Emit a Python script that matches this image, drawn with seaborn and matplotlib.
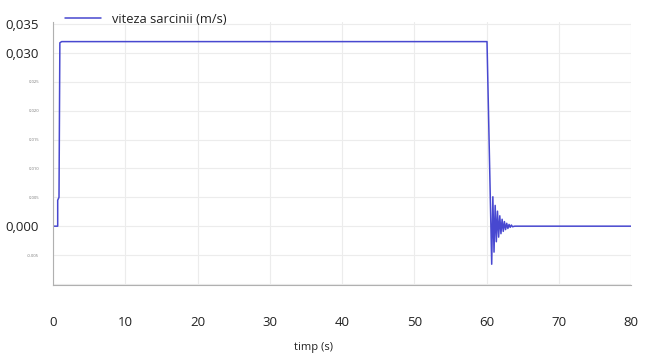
import matplotlib
matplotlib.use("Agg")
import matplotlib.pyplot as plt
import seaborn as sns
import pandas as pd
import numpy as np
from matplotlib.ticker import MultipleLocator, FixedLocator

# ---- data ----
time_s = [0.0, 0.65, 0.65, 0.83, 0.95, 1.2, 60.07,
          60.72, 60.88, 61.04, 61.20, 61.36, 61.52, 61.68, 61.84, 62.00, 62.16,
          62.32, 62.48, 62.64, 62.80, 62.96, 63.12, 63.28, 63.44, 63.60, 63.9, 80.0]
speed = [0.0, 0.0, 0.0045, 0.0050, 0.0318, 0.0320, 0.0320,
         -0.0066, 0.0051, -0.0045, 0.0036, -0.0027, 0.0026, -0.0019, 0.0018, -0.0013, 0.0012,
         -0.0009, 0.0008, -0.0006, 0.0005, -0.0004, 0.0003, -0.0002, 0.0002, -0.0001, 0.0, 0.0]
series_name = "viteza sarcinii (m/s)"
x_ticks = [0, 10, 20, 30, 40, 50, 60, 70, 80]
y_ticks = [-0.010, -0.005, 0.000, 0.005, 0.010, 0.015, 0.020, 0.025, 0.030, 0.035]
y_tick_labels = ["", "-0.005", "0,000", "0.005", "0.010", "0.015", "0.020", "0.025", "0,030", "0,035"]
big_y = {"0,000", "0,030", "0,035"}
x_label = "timp (s)"

df = pd.DataFrame({"t": time_s, "v": speed, "serie": series_name})

sns.set_style("white")
plt.rcParams['font.family'] = ['Open Sans', 'DejaVu Sans']

fig = plt.figure(figsize=(6.45, 3.58), dpi=100)
ax = fig.add_axes([53/645, 1-285/358, (631-53)/645, (285-22)/358])

sns.lineplot(data=df, x="t", y="v", hue="serie", palette=["#4848d0"],
             estimator=None, sort=False, linewidth=1.1, ax=ax)

ax.set_xlim(0, 80)
ax.set_ylim(-0.0102, 0.0354)

ax.xaxis.set_major_locator(FixedLocator(x_ticks))
ax.xaxis.set_minor_locator(MultipleLocator(2))
ax.yaxis.set_major_locator(FixedLocator(y_ticks))
ax.yaxis.set_minor_locator(MultipleLocator(0.001))
ax.set_xticklabels([str(x) for x in x_ticks])
ax.set_yticklabels(y_tick_labels)

for lab in ax.get_yticklabels():
    if lab.get_text() in big_y:
        lab.set_fontsize(9.5)
        lab.set_color("#222222")
    else:
        lab.set_fontsize(3)
        lab.set_color("#777777")

ax.tick_params(axis="x", which="major", length=4, width=0.8, color="#999999",
               labelsize=9.5, labelcolor="#222222", pad=20, direction="inout")
ax.tick_params(axis="x", which="minor", length=2, width=0.6, color="#aaaaaa", direction="out")
ax.tick_params(axis="y", which="major", length=4, width=0.8, color="#999999", pad=6)
ax.tick_params(axis="y", which="minor", length=2, width=0.6, color="#aaaaaa")

ax.grid(True, which="major", color="#ececec", linewidth=0.8)
ax.set_axisbelow(True)
for s in ["top", "right"]:
    ax.spines[s].set_visible(False)
for s in ["left", "bottom"]:
    ax.spines[s].set_color("#b0b0b0")
    ax.spines[s].set_linewidth(0.8)

ax.set_ylabel("")
ax.set_xlabel(x_label, fontsize=8, color="#222222")
ax.xaxis.set_label_coords(0.45, -0.215)

leg = ax.legend(loc="upper left", bbox_to_anchor=(0.012, 1.055), frameon=False,
                fontsize=9.3, handlelength=2.8, handletextpad=0.8, borderaxespad=0)
for txt in leg.get_texts():
    txt.set_color("#222222")

fig.savefig("out.png", dpi=100)
